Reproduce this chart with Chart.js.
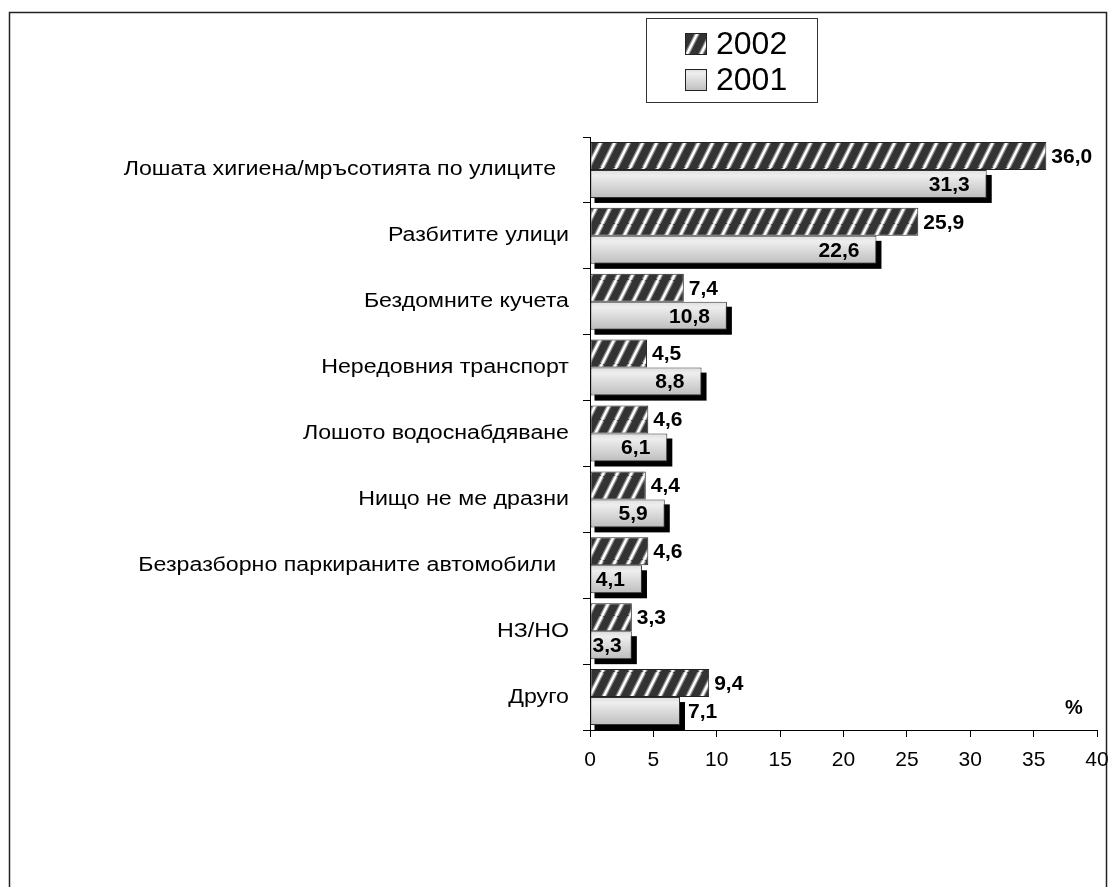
<!DOCTYPE html>
<html>
<head>
<meta charset="utf-8">
<script src="https://cdn.jsdelivr.net/npm/chart.js@4/dist/chart.umd.min.js"></script>
<style>
  html, body { margin: 0; padding: 0; background: #fff; }
  canvas { display: block; }
</style>
</head>
<body>
<canvas id="grafica" width="1114" height="887"></canvas>
<script>
// =================== Datos ===================
const categorias = [
  "Лошата хигиена/мръсотията по улиците  ",
  "Разбитите улици",
  "Бездомните кучета",
  "Нередовния транспорт",
  "Лошото водоснабдяване",
  "Нищо не ме дразни",
  "Безразборно паркираните автомобили  ",
  "НЗ/НО",
  "Друго"
];
const series = ["2002", "2001"];
const valores2002 = [36.0, 25.9, 7.4, 4.5, 4.6, 4.4, 4.6, 3.3, 9.4];
const valores2001 = [31.3, 22.6, 10.8, 8.8, 6.1, 5.9, 4.1, 3.3, 7.1];
const ticksX = [0, 5, 10, 15, 20, 25, 30, 35, 40];
const unidad = "%";

const FUENTE = "'Liberation Sans', Arial, sans-serif";

// =================== Helpers ===================
function formato(v) {
  return v.toFixed(1).replace(".", ",");
}

// rayado diagonal blanco sobre gris oscuro
function crearRayado() {
  const c = document.createElement("canvas");
  c.width = 14; c.height = 28;
  const g = c.getContext("2d");
  g.fillStyle = "#333";
  g.fillRect(0, 0, 14, 28);
  g.lineCap = "butt";
  for (const [w, col] of [[5, "#8a8a8a"], [2.5, "#fff"]]) {
    g.strokeStyle = col;
    g.lineWidth = w;
    for (const dx of [-14, 0, 14]) {
      g.beginPath();
      g.moveTo(dx, 28);
      g.lineTo(dx + 14, 0);
      g.stroke();
    }
  }
  return g.createPattern(c, "repeat");
}

function degradado(ctx, y0, y1) {
  const g = ctx.createLinearGradient(0, y0, 0, y1);
  g.addColorStop(0, "#dedede");
  g.addColorStop(0.2, "#eeeeee");
  g.addColorStop(1, "#bdbdbd");
  return g;
}

const rayado = crearRayado();

// =================== Plugins ===================
const marcoPlugin = {
  id: "marco",
  beforeDraw(chart) {
    const ctx = chart.ctx;
    ctx.save();
    ctx.fillStyle = "#fff";
    ctx.fillRect(0, 0, chart.width, chart.height);
    ctx.strokeStyle = "#222";
    ctx.lineWidth = 1.5;
    ctx.strokeRect(9.5, 12.5, 1097, 900);
    ctx.restore();
  }
};

// etiquetas de categoría (texto algo ensanchado, como en el original)
const categoriasPlugin = {
  id: "categorias",
  afterDraw(chart) {
    const esc = chart.scales.y;
    const ctx = chart.ctx;
    ctx.save();
    ctx.fillStyle = "#000";
    ctx.font = "20px " + FUENTE;
    ctx.textAlign = "right";
    ctx.textBaseline = "middle";
    chart.data.labels.forEach((lab, i) => {
      const y = esc.getPixelForValue(i);
      ctx.save();
      ctx.translate(esc.right - 21, y);
      ctx.scale(1.16, 1);
      ctx.fillText(lab, 0, 0);
      ctx.restore();
    });
    ctx.restore();
  }
};

const sombraPlugin = {
  id: "sombra",
  beforeDatasetsDraw(chart) {
    const meta = chart.getDatasetMeta(1);
    const ctx = chart.ctx;
    ctx.save();
    ctx.fillStyle = "#000";
    meta.data.forEach(bar => {
      const { x, y, base, height } = bar.getProps(["x", "y", "base", "height"], true);
      ctx.fillRect(base + 4, y - height / 2 + 5, x - base + 1, height);
    });
    ctx.restore();
  }
};

const etiquetasPlugin = {
  id: "etiquetas",
  afterDatasetsDraw(chart) {
    const ctx = chart.ctx;
    ctx.save();
    ctx.fillStyle = "#000";
    ctx.font = "bold 21px " + FUENTE;
    ctx.textBaseline = "middle";

    chart.getDatasetMeta(0).data.forEach((bar, i) => {
      ctx.textAlign = "left";
      ctx.fillText(formato(valores2002[i]), bar.x + 5, bar.y + 1);
    });

    const ultimo = valores2001.length - 1;
    chart.getDatasetMeta(1).data.forEach((bar, i) => {
      const txt = formato(valores2001[i]);
      if (i === ultimo) {
        ctx.textAlign = "left";
        ctx.fillText(txt, bar.x + 8, bar.y + 1);
      } else {
        const w = ctx.measureText(txt).width;
        const xr = Math.max(bar.x - 17, bar.base + 2 + w);
        ctx.textAlign = "right";
        ctx.fillText(txt, xr, bar.y + 1);
      }
    });

    // unidad
    ctx.textAlign = "center";
    ctx.font = "bold 20px " + FUENTE;
    ctx.fillText(unidad, 1074, 708);
    ctx.restore();
  }
};

const leyendaPlugin = {
  id: "leyenda",
  afterDraw(chart) {
    const ctx = chart.ctx;
    ctx.save();
    ctx.strokeStyle = "#333";
    ctx.lineWidth = 1;
    ctx.strokeRect(646.5, 18.5, 171, 84);

    const filas = [44, 80];
    series.forEach((nombre, i) => {
      const yc = filas[i];
      ctx.fillStyle = i === 0 ? rayado : degradado(ctx, yc - 11, yc + 11);
      ctx.fillRect(685, yc - 11, 22, 22);
      ctx.strokeStyle = "#222";
      ctx.strokeRect(685.5, yc - 10.5, 21, 21);
      ctx.fillStyle = "#000";
      ctx.font = "32px " + FUENTE;
      ctx.textAlign = "left";
      ctx.textBaseline = "middle";
      ctx.fillText(nombre, 716, yc + 1);
    });
    ctx.restore();
  }
};

// =================== Gráfica ===================
const ctx = document.getElementById("grafica").getContext("2d");

const grafica = new Chart(ctx, {
  type: "bar",
  data: {
    labels: categorias,
    datasets: [
      {
        label: series[0],
        data: valores2002,
        backgroundColor: rayado,
        borderColor: "#222",
        borderWidth: 1,
        borderSkipped: false
      },
      {
        label: series[1],
        data: valores2001,
        backgroundColor: (c) => {
          const esc = c.chart.scales.y;
          if (!esc || c.dataIndex === undefined || esc.top === undefined) return "#dddddd";
          const centro = esc.getPixelForValue(c.dataIndex);
          const alto = esc.height / categorias.length * 0.85 / 2;
          return degradado(c.chart.ctx, centro, centro + alto);
        },
        borderColor: "#333",
        borderWidth: 1,
        borderSkipped: false
      }
    ]
  },
  options: {
    indexAxis: "y",
    responsive: false,
    animation: false,
    categoryPercentage: 0.85,
    barPercentage: 1.0,
    layout: { padding: { top: 137, right: 17, left: 0, bottom: 0 } },
    plugins: {
      legend: { display: false },
      tooltip: { enabled: false }
    },
    scales: {
      x: {
        min: 0,
        max: 40,
        afterBuildTicks: (s) => { s.ticks = ticksX.map(v => ({ value: v })); },
        ticks: {
          color: "#000",
          font: { family: FUENTE, size: 21 },
          padding: 11,
          maxRotation: 0,
          autoSkip: false
        },
        grid: { drawOnChartArea: false, drawTicks: true, tickLength: 7, color: "#000" },
        border: { color: "#000", width: 1 },
        afterFit: (s) => { s.height = 157; s.paddingLeft = 0; s.paddingRight = 0; }
      },
      y: {
        ticks: { display: false, autoSkip: false },
        grid: { drawOnChartArea: false, drawTicks: true, tickLength: 7, color: "#000", offset: true },
        border: { color: "#000", width: 1 },
        afterFit: (s) => { s.width = 590; s.paddingTop = 0; s.paddingBottom = 0; }
      }
    }
  },
  plugins: [marcoPlugin, sombraPlugin, etiquetasPlugin, categoriasPlugin, leyendaPlugin]
});
</script>
</body>
</html>
